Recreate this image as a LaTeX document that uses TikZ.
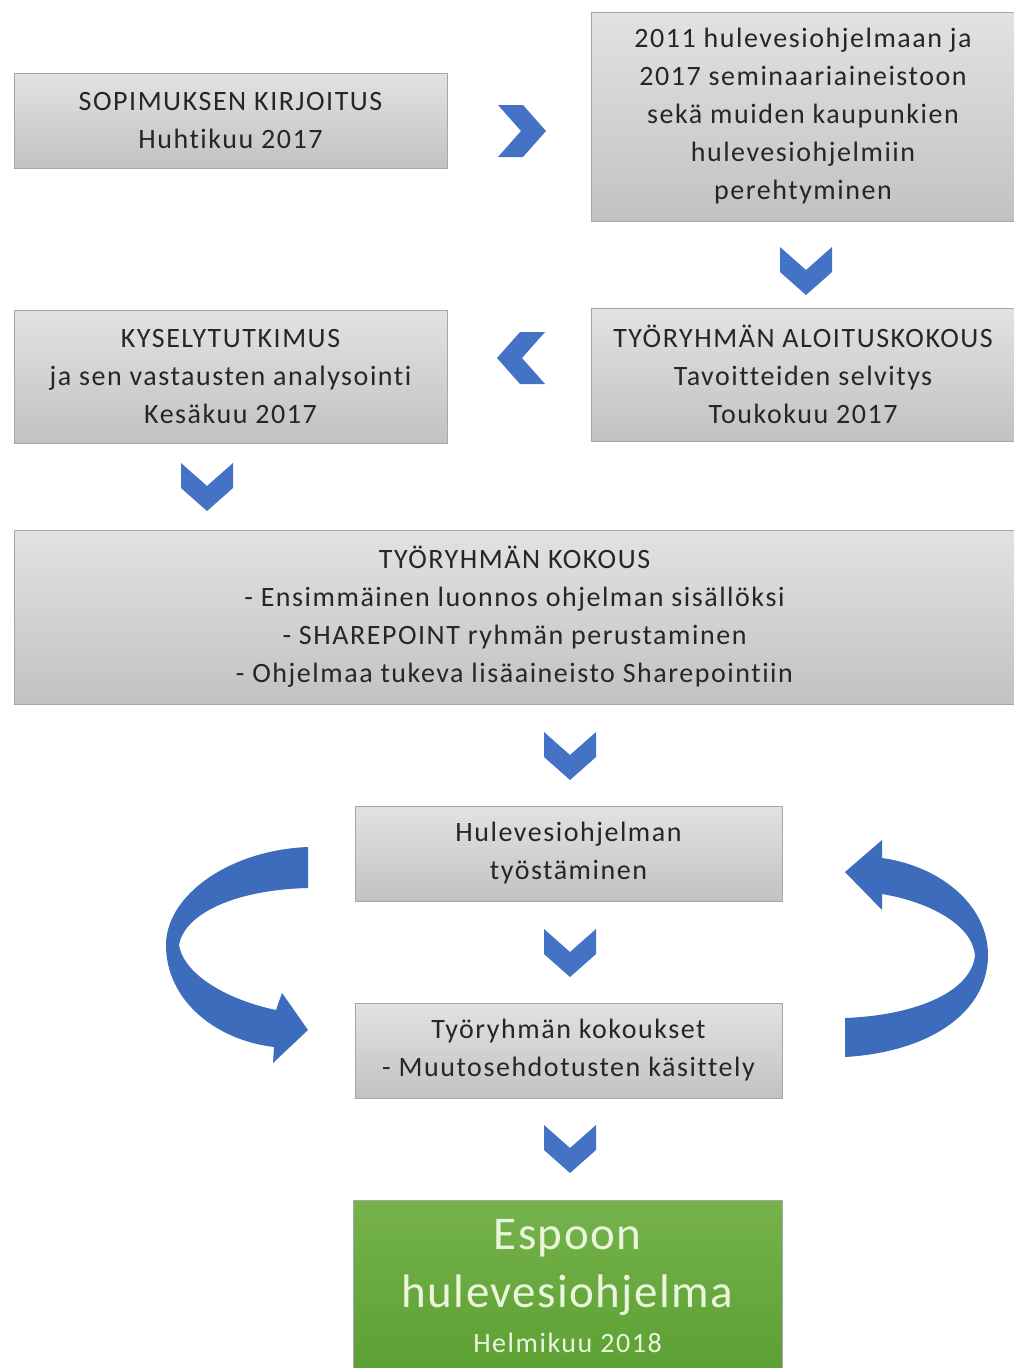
\documentclass[tikz,border=0pt]{standalone}
\usepackage{fontspec}
\setmainfont{Carlito}
\newfontfamily\boxfont[LetterSpace=5.5,Ligatures=NoCommon]{Carlito}
\newfontfamily\greenfont[LetterSpace=3,Ligatures=NoCommon]{Carlito}
\definecolor{txt}{HTML}{262626}
\definecolor{boxline}{HTML}{A6A6A6}
\definecolor{boxtop}{HTML}{E2E2E2}
\definecolor{boxbot}{HTML}{C2C2C2}
\definecolor{chevblue}{HTML}{4472C4}
\definecolor{curveblue}{HTML}{3E6CBC}
\definecolor{greentop}{HTML}{76B24C}
\definecolor{greenbot}{HTML}{5A9E2F}
\definecolor{greentxt}{HTML}{EAF6DC}
\tikzset{
  box/.style={draw=boxline, line width=1pt, top color=boxtop, bottom color=boxbot,
    text=txt, align=center, inner sep=0pt, font=\boxfont\fontsize{28}{38}\selectfont},
  chevron/.pic={\fill[chevblue] (-26,-24) -- (0,-1) -- (26,-24) -- (26,1) -- (0,24) -- (-26,1) -- cycle;},
  curvearrow/.style={fill=curveblue, draw=none}
}
\begin{document}
\begin{tikzpicture}[x=1pt,y=-1pt]
\clip (0,0) rectangle (1014,1368);
\fill[white] (0,0) rectangle (1014,1368);

\node[box, minimum width=433pt, minimum height=95pt] (b1) at (230.5,120.5)
  {SOPIMUKSEN KIRJOITUS\\Huhtikuu 2017};
\node[box, minimum width=424pt, minimum height=209pt] (b2) at (803,116.5)
  {2011 hulevesiohjelmaan ja\\2017 seminaariaineistoon\\sekä muiden kaupunkien\\hulevesiohjelmiin\\perehtyminen};
\node[box, minimum width=433pt, minimum height=133pt] (b3) at (230.5,376.5)
  {KYSELYTUTKIMUS\\ja sen vastausten analysointi\\Kesäkuu 2017};
\node[box, minimum width=424pt, minimum height=133pt] (b4) at (803,374.5)
  {TYÖRYHMÄN ALOITUSKOKOUS\\Tavoitteiden selvitys\\Toukokuu 2017};
\node[box, minimum width=1001pt, minimum height=174pt] (b5) at (514.5,617)
  {TYÖRYHMÄN KOKOUS\\- Ensimmäinen luonnos ohjelman sisällöksi\\- SHAREPOINT ryhmän perustaminen\\- Ohjelmaa tukeva lisäaineisto Sharepointiin};
\node[box, minimum width=427pt, minimum height=95pt] (b6) at (568.5,853.5)
  {Hulevesiohjelman\\työstäminen};
\node[box, minimum width=427pt, minimum height=95pt] (b7) at (568.5,1050.5)
  {Työryhmän kokoukset\\- Muutosehdotusten käsittely};
\node[draw=boxline, line width=1pt, top color=greentop, bottom color=greenbot,
  minimum width=429pt, minimum height=190pt, inner sep=0pt] (b8) at (567.5,1295) {};
\node[text=greentxt, inner sep=0pt, font=\greenfont\fontsize{47}{57}\selectfont] (b8a) at (567.5,1238) {Espoon};
\node[text=greentxt, inner sep=0pt, font=\greenfont\fontsize{47}{57}\selectfont] (b8b) at (567.5,1295) {hulevesiohjelma};
\node[text=greentxt, inner sep=0pt, font=\boxfont\fontsize{28}{30}\selectfont] (b8c) at (567.5,1343) {Helmikuu 2018};

% chevrons
\pic[rotate=90] (c1) at (522,131) {chevron};
\pic (c2) at (806,271) {chevron};
\pic[rotate=-90] (c3) at (521,358) {chevron};
\pic (c4) at (207,487) {chevron};
\pic (c5) at (570,756) {chevron};
\pic (c6) at (570,953) {chevron};
\pic (c7) at (570,1149) {chevron};

% left curved arrow
\fill[curvearrow] (308,847) .. controls (230,850) and (166,895) .. (166,945)
  .. controls (166,1000) and (215,1040) .. (274,1047)
  -- (273,1063) -- (308,1030) -- (282,993) -- (276,1010)
  .. controls (228,1000) and (184,975) .. (179,945)
  .. controls (184,915) and (232,890) .. (308,888) -- cycle;

% right curved arrow
\fill[curvearrow] (845,1057) .. controls (930,1052) and (988,1012) .. (988,955)
  .. controls (988,905) and (940,866) .. (882,858)
  -- (882,840) -- (845,872) -- (882,910) -- (882,894)
  .. controls (930,902) and (972,925) .. (975,955)
  .. controls (972,990) and (920,1015) .. (845,1018) -- cycle;
\end{tikzpicture}
\end{document}
